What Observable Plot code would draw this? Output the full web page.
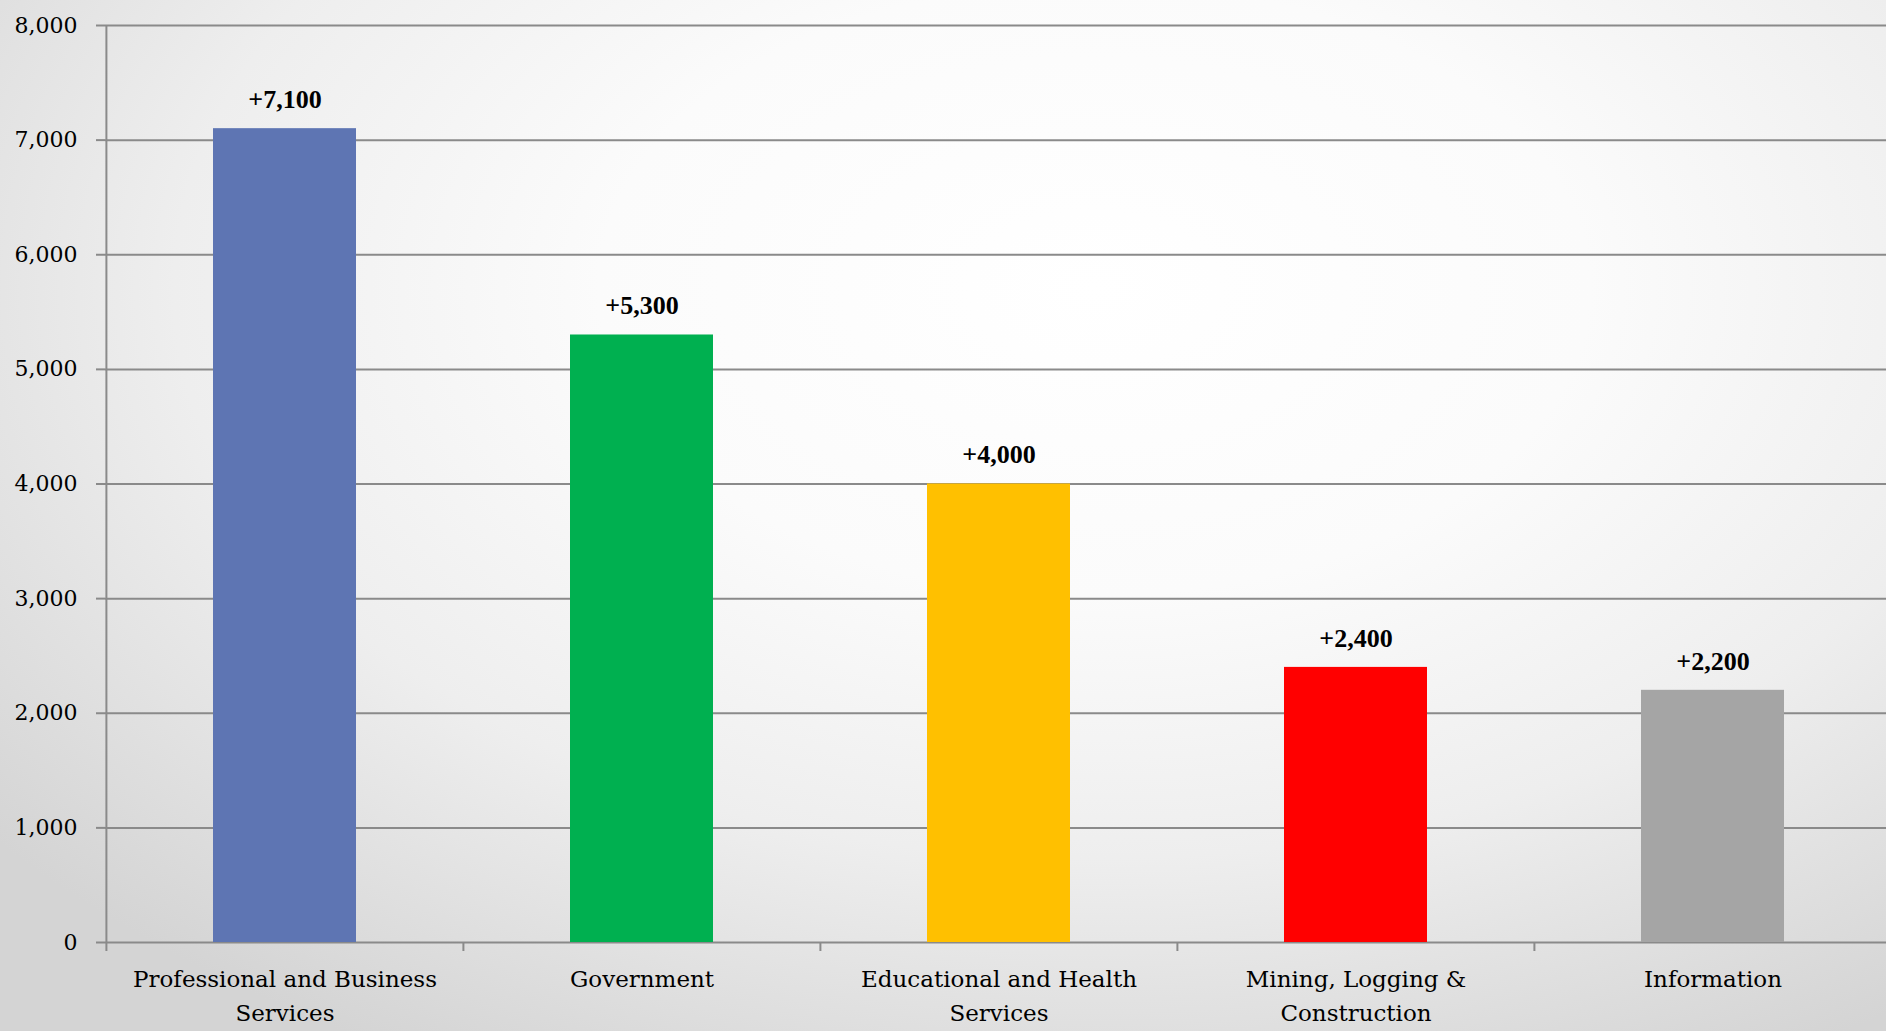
<!DOCTYPE html>
<html>
<head>
<meta charset="utf-8">
<script src="https://cdn.jsdelivr.net/npm/d3@7"></script>
<script src="https://cdn.jsdelivr.net/npm/@observablehq/plot@0.6"></script>
<style>
  html, body { margin: 0; padding: 0; }
  body {
    width: 1886px; height: 1031px; overflow: hidden;
    background: radial-gradient(ellipse 75% 85% at 58% 28%, #ffffff 0%, #fbfbfb 35%, #eeeeee 65%, #d4d4d4 100%);
  }
  #chart svg { display: block; }
</style>
</head>
<body>
<div id="chart"></div>
<script>
// ---- data ----
const categories = [
  "Professional and Business Services",
  "Government",
  "Educational and Health Services",
  "Mining, Logging & Construction",
  "Information"
];
const values = [7100, 5300, 4000, 2400, 2200];
const barColors = ["#5E75B3", "#00B050", "#FFC000", "#FF0000", "#A5A5A5"];
const categoryLabels = [
  "Professional and Business\nServices",
  "Government",
  "Educational and Health\nServices",
  "Mining, Logging &\nConstruction",
  "Information"
];
const yTicks = [0, 1000, 2000, 3000, 4000, 5000, 6000, 7000, 8000];

// ---- build table ----
const data = categories.map((c, i) => ({category: c, value: values[i]}));
const labelOf = new Map(categories.map((c, i) => [c, categoryLabels[i]]));

const W = 1886, H = 1031;
const xRange = [105, 1891];
const step = (xRange[1] - xRange[0]) / categories.length;
const gridColor = "#8a8a8a";
const font = "'DejaVu Serif', 'Liberation Serif', serif";

const chart = Plot.plot({
  width: W,
  height: H,
  marginLeft: 105,
  marginRight: 0,
  marginTop: 25,
  marginBottom: 89,
  style: {fontFamily: font, fontSize: "22px", background: "transparent", color: "#000"},
  x: {domain: categories, range: xRange, paddingInner: 0.6, paddingOuter: 0.3, label: null},
  y: {domain: [0, 8000], label: null},
  color: {domain: categories, range: barColors},
  marks: [
    Plot.gridY(yTicks, {stroke: gridColor, strokeOpacity: 1, strokeWidth: 2}),
    Plot.axisY(yTicks, {
      tickSize: 9, tickPadding: 19, stroke: gridColor, strokeWidth: 2,
      tickFormat: d3.format(","), fontSize: 22, fill: "#000", label: null
    }),
    // vertical value axis line
    Plot.ruleX([categories[0]], {x: d => d, dx: -step / 2, y1: () => 0, y2: () => 8000, stroke: gridColor, strokeWidth: 2}),
    // category boundary ticks
    Plot.axisX({tickSize: 9, tickFormat: () => "", dx: -step / 2, stroke: gridColor, strokeWidth: 2, label: null}),
    // category labels
    Plot.axisX({tickSize: 0, tickPadding: 20, tickFormat: d => labelOf.get(d), fontSize: 23, lineHeight: 1.5, fill: "#000", label: null}),
    Plot.barY(data, {x: "category", y: "value", fill: "category"}),
    Plot.text(data, {
      x: "category", y: "value",
      text: d => "+" + d3.format(",")(d.value),
      dy: -29, fontWeight: "bold", fontSize: 26, fontFamily: "'Liberation Serif', serif", fill: "#000"
    })
  ]
});
document.getElementById("chart").appendChild(chart);
</script>
</body>
</html>
